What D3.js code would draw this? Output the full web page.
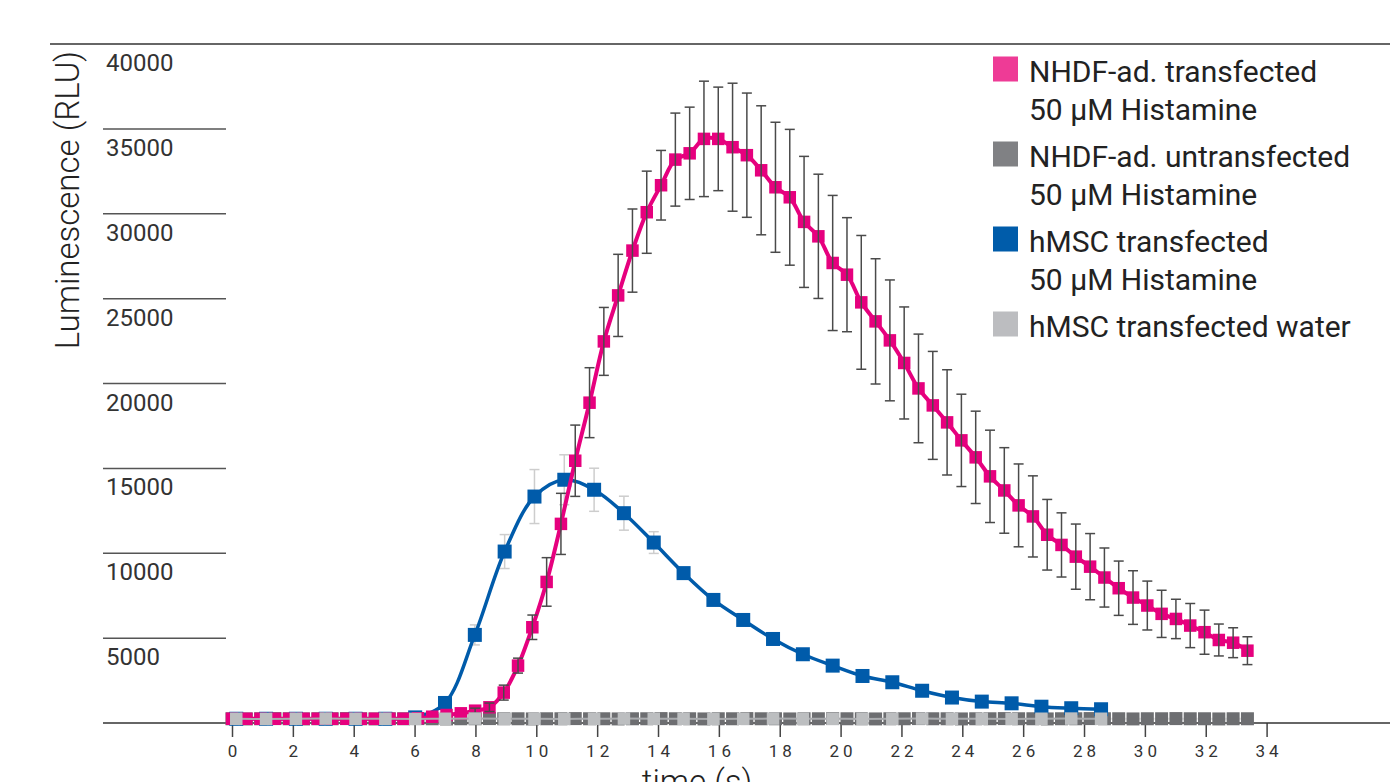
<!DOCTYPE html>
<html>
<head>
<meta charset="utf-8">
<script src="https://cdn.jsdelivr.net/npm/d3@7"></script>
<style>
    body { margin: 0; background: #fff; }
    svg { display: block; font-family: Roboto, 'Noto Sans', sans-serif; }
</style>
</head>
<body>
<div id="chart"></div>
<script>
var chart_width  = 1400;
var chart_height = 782;

// time points (s) for the NHDF-ad. series (approx 0.47 s steps)
var nhdf_time = [
    0.00, 0.47, 0.94, 1.41, 1.88, 2.35, 2.82, 3.29, 3.76, 4.23, 4.70, 5.17,
    5.64, 6.11, 6.58, 7.05, 7.52, 7.99, 8.46, 8.93, 9.40, 9.87, 10.34, 10.81,
    11.28, 11.75, 12.22, 12.69, 13.16, 13.63, 14.10, 14.57, 15.04, 15.51, 15.98, 16.45,
    16.92, 17.39, 17.86, 18.33, 18.80, 19.27, 19.74, 20.21, 20.68, 21.15, 21.62, 22.09,
    22.56, 23.03, 23.50, 23.97, 24.44, 24.91, 25.38, 25.85, 26.32, 26.79, 27.26, 27.73,
    28.20, 28.67, 29.14, 29.61, 30.08, 30.55, 31.02, 31.49, 31.96, 32.43, 32.90, 33.37
];
var nhdf_trans = [
    250, 250, 250, 250, 250, 250, 250, 250, 250, 250, 250, 250,
    250, 280, 370, 470, 570, 725, 925, 1790, 3380, 5640, 8310, 11730,
    15450, 18870, 22480, 25190, 27830, 30090, 31680, 33190, 33560, 34410, 34410, 33920,
    33450, 32560, 31560, 30970, 29520, 28670, 27100, 26410, 24780, 23660, 22540, 21210,
    19710, 18710, 17710, 16650, 15650, 14530, 13700, 12820, 12170, 11090, 10490, 9800,
    9210, 8570, 7940, 7390, 6920, 6430, 6130, 5740, 5350, 4890, 4730, 4260
];
var nhdf_trans_err = [
    0, 0, 0, 0, 0, 0, 0, 0, 0, 0, 0, 0,
    0, 0, 0, 0, 0, 150, 250, 440, 440, 720, 1430, 1800,
    2100, 2060, 2000, 2420, 2450, 2420, 2050, 2740, 2720, 3400, 3050, 3770,
    3660, 3800, 3830, 4000, 3860, 3660, 3980, 3360, 3940, 3690, 3560, 3300,
    3200, 3180, 3100, 2720, 2720, 2720, 2520, 2440, 2390, 2080, 1890, 1920,
    1950, 1740, 1600, 1580, 1440, 1390, 1160, 1300, 1300, 940, 880, 820
];
var nhdf_untrans = [
    250, 240, 250, 260, 250, 240, 250, 250, 260, 250, 240, 250,
    250, 260, 250, 240, 250, 250, 260, 250, 250, 240, 250, 250,
    260, 250, 250, 240, 250, 250, 260, 250, 250, 240, 250, 250,
    260, 250, 250, 240, 250, 250, 260, 250, 250, 240, 250, 250,
    260, 250, 250, 240, 250, 250, 260, 250, 250, 240, 250, 250,
    260, 250, 250, 240, 250, 250, 260, 250, 250, 240, 250, 250
];

// time points (s) for the hMSC series (approx 0.98 s steps)
var hmsc_time = [
    0.14, 1.12, 2.10, 3.08, 4.06, 5.04, 6.02, 7.00, 7.98, 8.96,
    9.94, 10.92, 11.90, 12.88, 13.86, 14.84, 15.82, 16.80, 17.78, 18.76,
    19.74, 20.72, 21.70, 22.68, 23.66, 24.64, 25.62, 26.60, 27.58, 28.56
];
var hmsc_trans = [
    250, 250, 250, 250, 250, 250, 330, 1180, 5190, 10100,
    13340, 14330, 13740, 12360, 10630, 8830, 7250, 6070, 4950, 4050,
    3380, 2770, 2400, 1900, 1500, 1260, 1160, 960, 870, 810
];
var hmsc_trans_err = [
    0, 0, 0, 0, 0, 0, 0, 300, 590, 1000,
    1590, 1470, 1270, 1000, 640, 300, 0, 0, 0, 0,
    0, 0, 0, 0, 0, 0, 0, 0, 0, 0
];
var hmsc_water = [
    250, 240, 250, 260, 250, 250, 240, 250, 260, 250,
    250, 240, 250, 260, 250, 250, 240, 250, 260, 250,
    250, 240, 250, 260, 250, 250, 240, 250, 260, 250
];

var x_ticks = [0, 2, 4, 6, 8, 10, 12, 14, 16, 18, 20, 22, 24, 26, 28, 30, 32, 34];
var y_ticks = [5000, 10000, 15000, 20000, 25000, 30000, 35000, 40000];

var legend_labels = [
    ['NHDF-ad. transfected', '50 µM Histamine'],
    ['NHDF-ad. untransfected', '50 µM Histamine'],
    ['hMSC transfected', '50 µM Histamine'],
    ['hMSC transfected water']
];
var legend_colors = ['#EE3B96', '#808184', '#005CAA', '#BCBDC0'];

var pink  = '#E6007E';
var dgray = '#6D6E71';
var blue  = '#005BAA';
var lgray = '#BCBEC0';

var svg = d3.select('#chart')
            .append('svg')
            .attr('width', chart_width)
            .attr('height', chart_height);

//Scales
var x_scale = d3.scaleLinear()
                .domain([0, 34])
                .range([232, 1266.6]);

var y_scale = d3.scaleLinear()
                .domain([0, 40000])
                .range([723, 44]);

var zip = (t, v, e) => {
    return t.map((d, i) => {
        return { t: d, v: v[i], e: e ? e[i] : 0 };
    });
};

var pink_data  = zip(nhdf_time, nhdf_trans, nhdf_trans_err);
var dgray_data = zip(nhdf_time, nhdf_untrans);
var blue_data  = zip(hmsc_time, hmsc_trans, hmsc_trans_err);
var lgray_data = zip(hmsc_time, hmsc_water);

//Frame lines and y grid
svg.append('line')
    .attr('x1', 50).attr('x2', 1390)
    .attr('y1', y_scale(40000)).attr('y2', y_scale(40000))
    .attr('stroke', '#333').attr('stroke-width', 1.5);

svg.selectAll('.grid')
    .data(y_ticks.filter((d) => { return d < 40000; }))
    .enter()
    .append('line')
    .attr('class', 'grid')
    .attr('x1', 103).attr('x2', 226)
    .attr('y1', (d) => { return y_scale(d); })
    .attr('y2', (d) => { return y_scale(d); })
    .attr('stroke', '#555').attr('stroke-width', 1.5);

svg.selectAll('.ylabel')
    .data(y_ticks)
    .enter()
    .append('text')
    .attr('class', 'ylabel')
    .attr('x', 106)
    .attr('y', (d) => { return y_scale(d) + 27; })
    .attr('font-size', 24)
    .attr('fill', '#333')
    .text((d) => { return d; });

//X axis
var x_axis = d3.axisBottom(x_scale)
                .tickValues(x_ticks)
                .tickSize(14)
                .tickPadding(8)
                .tickFormat(d3.format('d'));

var gx = svg.append('g')
    .attr('transform', 'translate(0,' + y_scale(0) + ')')
    .call(x_axis);
gx.select('.domain').remove();
gx.selectAll('.tick line').attr('stroke', '#444').attr('stroke-width', 1.5);
gx.selectAll('.tick text')
    .style('font-family', 'Roboto, sans-serif')
    .style('font-size', '17px')
    .style('letter-spacing', '4px')
    .attr('dx', 2)
    .attr('fill', '#333');

svg.append('line')
    .attr('x1', 103).attr('x2', 1390)
    .attr('y1', y_scale(0)).attr('y2', y_scale(0))
    .attr('stroke', '#333').attr('stroke-width', 1.5);

//Axis titles
svg.append('text')
    .attr('transform', 'translate(79,200) rotate(-90)')
    .attr('text-anchor', 'middle')
    .attr('font-size', 33)
    .attr('font-weight', 300)
    .attr('fill', '#222')
    .text('Luminescence (RLU)');

// x title sits on the lower edge, as in the source figure
svg.append('text')
    .attr('x', 697)
    .attr('y', 793)
    .attr('text-anchor', 'middle')
    .attr('font-size', 33)
    .attr('font-weight', 300)
    .attr('fill', '#222')
    .text('time (s)');

//Series helpers
var line_gen = d3.line()
                .x((d) => { return x_scale(d.t); })
                .y((d) => { return y_scale(d.v); })
                .curve(d3.curveCatmullRom);

var draw_line = (data, color, width) => {
    svg.append('path')
        .datum(data)
        .attr('d', line_gen)
        .attr('fill', 'none')
        .attr('stroke', color)
        .attr('stroke-width', width);
};

var draw_markers = (data, color, size) => {
    svg.append('g')
        .selectAll('rect')
        .data(data)
        .enter()
        .append('rect')
        .attr('x', (d) => { return x_scale(d.t) - size / 2; })
        .attr('y', (d) => { return y_scale(d.v) - size / 2; })
        .attr('width', size)
        .attr('height', size)
        .attr('fill', color);
};

var draw_errors = (data, color) => {
    var g = svg.append('g')
        .attr('stroke', color)
        .attr('stroke-width', 1.5);
    var bars = data.filter((d) => { return d.e > 0; });
    g.selectAll('.v')
        .data(bars)
        .enter()
        .append('line')
        .attr('x1', (d) => { return x_scale(d.t); })
        .attr('x2', (d) => { return x_scale(d.t); })
        .attr('y1', (d) => { return y_scale(d.v + d.e); })
        .attr('y2', (d) => { return y_scale(d.v - d.e); });
    [1, -1].forEach((s) => {
        g.selectAll('.c' + s)
            .data(bars)
            .enter()
            .append('line')
            .attr('x1', (d) => { return x_scale(d.t) - 5; })
            .attr('x2', (d) => { return x_scale(d.t) + 5; })
            .attr('y1', (d) => { return y_scale(d.v + s * d.e); })
            .attr('y2', (d) => { return y_scale(d.v + s * d.e); });
    });
};

//NHDF-ad. untransfected
draw_line(dgray_data, '#e4e4e4', 2);
draw_markers(dgray_data, dgray, 13);

//hMSC transfected
draw_errors(blue_data, '#cdcdcd');
draw_line(blue_data, blue, 3.5);
draw_markers(blue_data, blue, 14);

//NHDF-ad. transfected
draw_line(pink_data, pink, 4);
draw_markers(pink_data, pink, 12.5);
draw_errors(pink_data, '#4a4a4a');

//hMSC water
draw_line(lgray_data, '#a9abae', 2);
draw_markers(lgray_data, lgray, 12.5);

//Legend
var legend = svg.append('g');
legend_labels.forEach((lines, i) => {
    var base = 81.5 + i * 85;
    legend.append('rect')
        .attr('x', 993)
        .attr('y', base - 25)
        .attr('width', 25)
        .attr('height', 25)
        .attr('fill', legend_colors[i]);
    lines.forEach((txt, j) => {
        legend.append('text')
            .attr('x', 1029)
            .attr('y', base + j * 38.5)
            .attr('font-size', 30)
            .attr('fill', '#222')
            .text(txt);
    });
});
</script>
</body>
</html>
